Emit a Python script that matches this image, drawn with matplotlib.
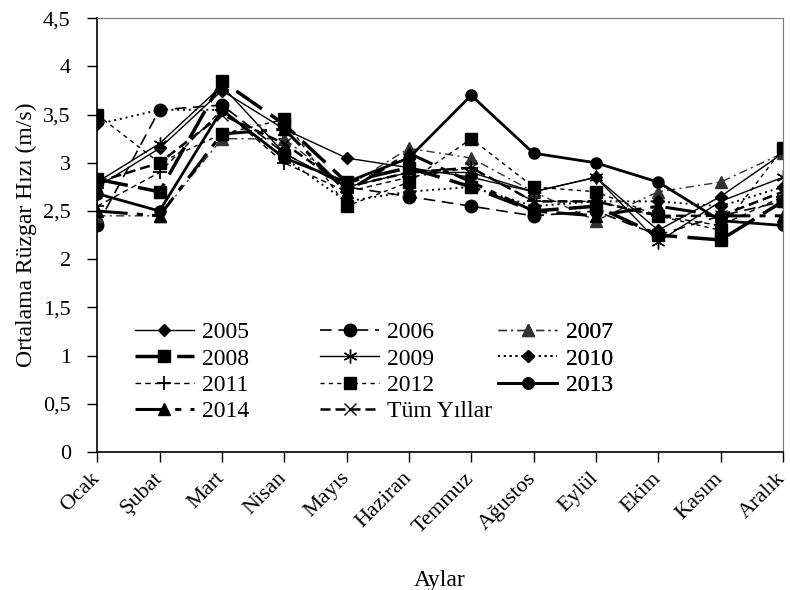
import matplotlib.pyplot as plt
import numpy as np

plt.rcParams["font.family"] = ["Liberation Serif", "DejaVu Serif"]

aylar = ["Ocak", "Şubat", "Mart", "Nisan", "Mayıs", "Haziran", "Temmuz",
         "Ağustos", "Eylül", "Ekim", "Kasım", "Aralık"]

# aylık ortalama rüzgar hızı (m/s)
y2005 = [2.75, 3.15, 3.75, 3.35, 3.05, 2.95, 2.85, 2.70, 2.85, 2.30, 2.65, 3.10]
y2006 = [2.35, 3.55, 3.60, 3.10, 2.75, 2.65, 2.55, 2.45, 2.50, 2.25, 2.45, 2.60]
y2007 = [2.45, 2.45, 3.25, 3.25, 2.75, 3.15, 3.05, 2.70, 2.40, 2.70, 2.80, 3.10]
y2008 = [2.83, 2.70, 3.85, 3.40, 2.80, 2.95, 2.75, 2.50, 2.55, 2.25, 2.20, 2.60]
y2009 = [2.80, 3.20, 3.80, 3.10, 2.75, 2.90, 2.90, 2.70, 2.85, 2.18, 2.60, 2.85]
y2010 = [3.40, 3.55, 3.55, 3.05, 2.60, 2.70, 2.75, 2.55, 2.60, 2.60, 2.55, 2.75]
y2011 = [2.55, 2.90, 3.55, 3.00, 2.70, 2.85, 2.95, 2.60, 2.60, 2.45, 2.35, 2.65]
y2012 = [3.50, 3.00, 3.30, 3.45, 2.55, 2.80, 3.25, 2.75, 2.70, 2.45, 2.30, 3.15]
y2013 = [2.68, 2.50, 3.55, 3.05, 2.80, 3.05, 3.70, 3.10, 3.00, 2.80, 2.40, 2.35]
y2014 = [2.50, 2.45, 3.30, 3.35, 2.70, 3.10, 2.80, 2.50, 2.45, 2.55, 2.45, 2.45]
tum_yillar = [2.80, 3.00, 3.50, 3.20, 2.75, 2.90, 2.95, 2.60, 2.60, 2.45, 2.45, 2.70]

x = np.arange(len(aylar))

fig = plt.figure(figsize=(7.9, 5.9), dpi=100)
ax = fig.add_axes([0.123, 0.234, 0.868, 0.735])

k = "black"
l2005, = ax.plot(x, y2005, color=k, lw=1.0, ls="-", marker="D", ms=6.5)
l2006, = ax.plot(x, y2006, color=k, lw=1.2, dashes=(7, 4), marker="o", ms=9)
l2007, = ax.plot(x, y2007, color="#333333", lw=1.0, dashes=(6, 3, 1.5, 3), marker="^", ms=8)
l2008, = ax.plot(x, y2008, color=k, lw=2.5, dashes=(9, 3), marker="s", ms=9)
l2009, = ax.plot(x, y2009, color=k, lw=1.0, ls="-", marker=(6, 2, 0), ms=10, mew=1.0)
l2010, = ax.plot(x, y2010, color=k, lw=1.4, dashes=(1, 2), marker="D", ms=6.5)
l2011, = ax.plot(x, y2011, color=k, lw=1.0, dashes=(4, 3), marker="+", ms=10, mew=1.3)
l2012, = ax.plot(x, y2012, color=k, lw=1.0, dashes=(3, 3), marker="s", ms=8)
l2013, = ax.plot(x, y2013, color=k, lw=2.0, ls="-", marker="o", ms=8)
l2014, = ax.plot(x, y2014, color=k, lw=2.2, dashes=(10, 3, 2, 3), marker="^", ms=8)
ltum, = ax.plot(x, tum_yillar, color=k, lw=1.8, dashes=(4, 2), marker="x", ms=9, mew=1.0)

ax.set_xlim(0, 11)
ax.set_ylim(0, 4.5)
ax.set_xticks(x)
ax.set_xticklabels(aylar, rotation=45, ha="right", va="center",
                   rotation_mode="anchor", fontsize=16)
yt = np.arange(0, 4.51, 0.5)
ax.set_yticks(yt)
ax.set_yticklabels([f"{v:g}".replace(".", ",") for v in yt], fontsize=16)
ax.tick_params(direction="out", length=7, width=1, colors="black")
ax.tick_params(axis="x", pad=10)
ax.tick_params(axis="y", pad=12)

for s in ["top", "right"]:
    ax.spines[s].set_color("#777777")
    ax.spines[s].set_linewidth(0.8)
for s in ["left", "bottom"]:
    ax.spines[s].set_linewidth(1.2)

ax.set_xlabel("Aylar", fontsize=17, labelpad=24)
ax.set_ylabel("Ortalama Rüzgar Hızı (m/s)", fontsize=17, labelpad=4)

# lejant: üç ayrı sütun
kolonlar = [
    ([l2005, l2008, l2011, l2014], ["2005", "2008", "2011", "2014"], 0.055),
    ([l2006, l2009, l2012, ltum], ["2006", "2009", "2012", "Tüm Yıllar"], 0.325),
    ([l2007, l2010, l2013], ["2007", "2010", "2013"], 0.585),
]
for h, lab, xpos in kolonlar:
    leg = ax.legend(h, lab, loc="upper left", bbox_to_anchor=(xpos, 0.30),
                    frameon=False, fontsize=17, handlelength=2.5, handletextpad=0.35,
                    labelspacing=0.2, borderpad=0, borderaxespad=0)
    ax.add_artist(leg)

fig.savefig("out.png", dpi=100, facecolor="white")
